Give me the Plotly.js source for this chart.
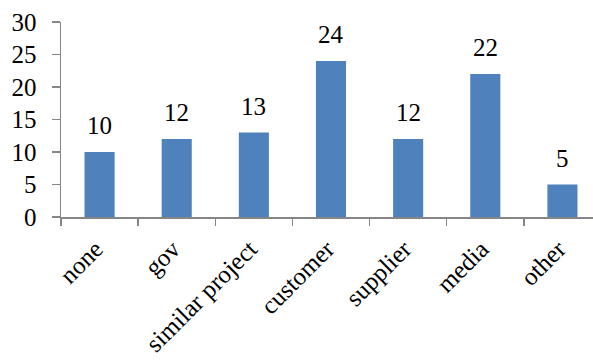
<!DOCTYPE html>
<html><head><meta charset="utf-8">
<script src="https://cdn.plot.ly/plotly-3.0.1.min.js"></script>
<style>html,body{margin:0;padding:0;overflow:hidden;background:#fff;width:593px;height:363px}</style>
</head><body><div id="chart"></div>
<script>
const categories = ["none", "gov", "similar project", "customer", "supplier", "media", "other"];
const values = [10, 12, 13, 24, 12, 22, 5];
const yTicks = [0, 5, 10, 15, 20, 25, 30];

const font = {family: "'Liberation Serif', 'Times New Roman', serif", size: 25, color: "#000"};

Plotly.newPlot("chart", [{
  type: "bar",
  x: categories,
  y: values,
  marker: {color: "#4F81BD"},
  hoverinfo: "none"
}], {
  width: 610, height: 363,
  margin: {l: 61, r: 9, t: 22, b: 146},
  paper_bgcolor: "#fff", plot_bgcolor: "#fff",
  bargap: 0.61,
  showlegend: false,
  font: font,
  annotations: categories.map((c, i) => ({
    x: c, y: values[i], xref: "x", yref: "y",
    text: String(values[i]), showarrow: false,
    yanchor: "bottom", yshift: 11, font: font
  })),
  xaxis: {
    type: "category",
    tickangle: -45,
    tickfont: font,
    showline: true, linecolor: "#868686", linewidth: 1.5,
    ticks: "outside", ticklen: 7, tickcolor: "#868686", tickwidth: 1.5,
    tickson: "boundaries",
    ticklabelstandoff: 6,
    ticklabelshift: -4,
    showgrid: false, zeroline: false
  },
  yaxis: {
    range: [0, 30],
    tickvals: yTicks,
    tickfont: font,
    showline: true, linecolor: "#868686", linewidth: 1.5,
    ticks: "outside", ticklen: 8, tickcolor: "#868686", tickwidth: 1.5,
    showgrid: false, zeroline: false,
    ticklabelstandoff: 10
  }
}, {staticPlot: true, displayModeBar: false});
</script></body></html>
